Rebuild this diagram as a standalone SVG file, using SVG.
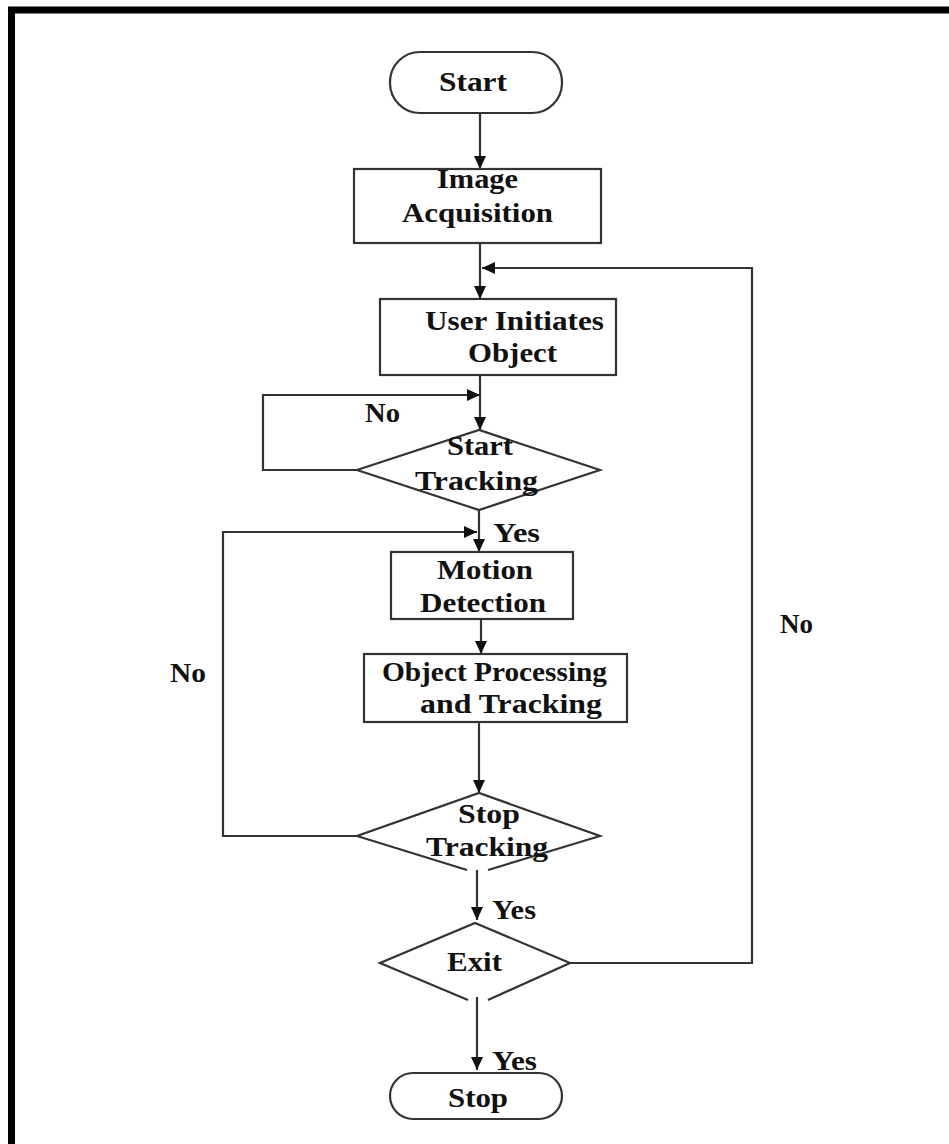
<svg xmlns="http://www.w3.org/2000/svg" width="949" height="1144" viewBox="0 0 949 1144">
<style>
.sh{fill:#fff;stroke:#333;stroke-width:2.2}
.ln{fill:none;stroke:#333;stroke-width:2.2}
.t{font-family:"Liberation Serif","Times New Roman",serif;font-weight:bold;font-size:27px;fill:#111}
</style>
<defs>
<marker id="ah" markerUnits="userSpaceOnUse" markerWidth="15" markerHeight="13" refX="13" refY="6" orient="auto">
<path d="M0,0 L13,6 L0,12 z" fill="#111"/>
</marker>
</defs>
<rect x="0" y="0" width="949" height="1144" fill="#fff"/>
<path d="M11.5,1150 V10 H960" fill="none" stroke="#000" stroke-width="7"/>
<g id="connectors">
<path class="ln" d="M480,113 V169" marker-end="url(#ah)"/>
<path class="ln" d="M480,243 V299" marker-end="url(#ah)"/>
<path class="ln" d="M570,963 H752 V268 H482" marker-end="url(#ah)"/>
<path class="ln" d="M480,375 V430" marker-end="url(#ah)"/>
<path class="ln" d="M357,470 H263 V395 H480" marker-end="url(#ah)"/>
<path class="ln" d="M479,510 V552" marker-end="url(#ah)"/>
<path class="ln" d="M481,619 V654" marker-end="url(#ah)"/>
<path class="ln" d="M479,722 V793" marker-end="url(#ah)"/>
<path class="ln" d="M357,836 H223 V532 H477" marker-end="url(#ah)"/>
<path class="ln" d="M477,870 V920" marker-end="url(#ah)"/>
<path class="ln" d="M477,997 V1070" marker-end="url(#ah)"/>
<text class="t" x="365" y="422" textLength="35" lengthAdjust="spacingAndGlyphs">No</text>
<text class="t" x="493" y="542" textLength="47" lengthAdjust="spacingAndGlyphs">Yes</text>
<text class="t" x="170" y="682" textLength="36" lengthAdjust="spacingAndGlyphs">No</text>
<text class="t" x="780" y="633" textLength="33" lengthAdjust="spacingAndGlyphs">No</text>
<text class="t" x="492" y="919" textLength="44" lengthAdjust="spacingAndGlyphs">Yes</text>
<text class="t" x="492" y="1070" textLength="45" lengthAdjust="spacingAndGlyphs">Yes</text>
</g>
<g id="start">
<rect class="sh" x="390" y="52" width="172" height="61" rx="30"/>
<text class="t" x="439" y="91" textLength="68" lengthAdjust="spacingAndGlyphs">Start</text>
</g>
<g id="image-acquisition">
<rect class="sh" x="354" y="169" width="247" height="74"/>
<text class="t" x="437" y="188" textLength="81" lengthAdjust="spacingAndGlyphs">Image</text>
<text class="t" x="402" y="222" textLength="151" lengthAdjust="spacingAndGlyphs">Acquisition</text>
</g>
<g id="user-initiates">
<rect class="sh" x="380" y="299" width="236" height="76"/>
<text class="t" x="425" y="330" textLength="179" lengthAdjust="spacingAndGlyphs">User Initiates</text>
<text class="t" x="468" y="362" textLength="89" lengthAdjust="spacingAndGlyphs">Object</text>
</g>
<g id="start-tracking">
<polygon class="sh" points="357,470 479,430 600,470 479,510"/>
<text class="t" x="447" y="455" textLength="66" lengthAdjust="spacingAndGlyphs">Start</text>
<text class="t" x="415" y="490" textLength="123" lengthAdjust="spacingAndGlyphs">Tracking</text>
</g>
<g id="motion-detection">
<rect class="sh" x="391" y="552" width="182" height="67"/>
<text class="t" x="437" y="579" textLength="96" lengthAdjust="spacingAndGlyphs">Motion</text>
<text class="t" x="420" y="612" textLength="126" lengthAdjust="spacingAndGlyphs">Detection</text>
</g>
<g id="object-processing">
<rect class="sh" x="364" y="654" width="263" height="68"/>
<text class="t" x="382" y="681" textLength="225" lengthAdjust="spacingAndGlyphs">Object Processing</text>
<text class="t" x="420" y="713" textLength="182" lengthAdjust="spacingAndGlyphs">and Tracking</text>
</g>
<g id="stop-tracking">
<path class="ln" d="M467,870 L357,836 L479,793 L600,836 L488,870"/>
<text class="t" x="458" y="823" textLength="62" lengthAdjust="spacingAndGlyphs">Stop</text>
<text class="t" x="426" y="856" textLength="122" lengthAdjust="spacingAndGlyphs">Tracking</text>
</g>
<g id="exit">
<path class="ln" d="M468,1000 L380,963 L475,923 L570,963 L488,1000"/>
<text class="t" x="447" y="971" textLength="55" lengthAdjust="spacingAndGlyphs">Exit</text>
</g>
<g id="stop">
<rect class="sh" x="390" y="1073" width="172" height="46" rx="23"/>
<text class="t" x="448" y="1107" textLength="60" lengthAdjust="spacingAndGlyphs">Stop</text>
</g>
</svg>
